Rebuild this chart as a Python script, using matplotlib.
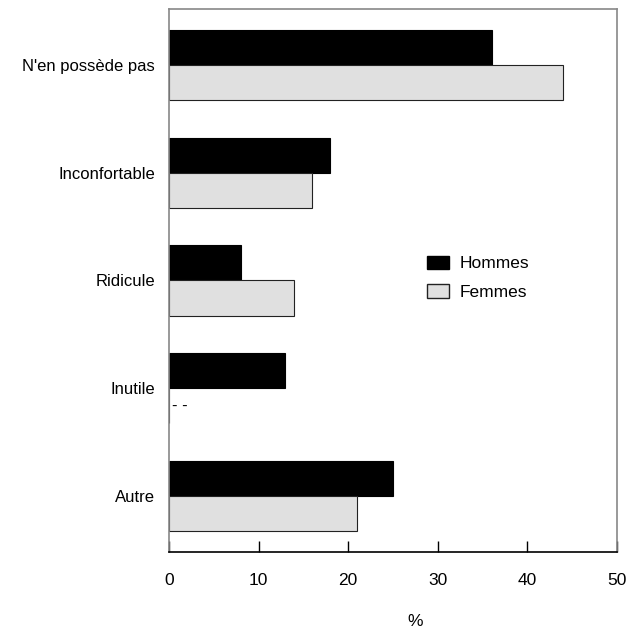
import matplotlib
matplotlib.use("Agg")
import matplotlib.pyplot as plt
import numpy as np
from matplotlib.patches import Patch

plt.rcParams["font.family"] = ["Liberation Sans", "DejaVu Sans"]

# Data
categories = ["N'en possède pas", "Inconfortable", "Ridicule", "Inutile", "Autre"]
hommes = [36, 18, 8, 13, 25]
femmes = [44, 16, 14, np.nan, 21]
xticks = [0, 10, 20, 30, 40, 50]

fig = plt.figure(figsize=(6.35, 6.3), dpi=100)
ax = fig.add_axes([169 / 635, 78 / 630, 448 / 635, 543 / 630])

y = np.arange(len(categories))
h = 0.325
ax.barh(y - h / 2, hommes, height=h, color="black", edgecolor="black", linewidth=0.8)
fem_vals = [0 if np.isnan(v) else v for v in femmes]
ax.barh(y + h / 2, fem_vals, height=h, color="#e0e0e0", edgecolor="#222222", linewidth=0.8)

# missing value marker
for i, v in enumerate(femmes):
    if np.isnan(v):
        ax.text(0.3, y[i] + h / 2, "- -", ha="left", va="center", fontsize=12)

ax.set_xlim(0, 50)
ax.set_ylim(4.52, -0.52)
ax.set_yticks(y)
ax.set_yticklabels(categories, fontsize=12)
ax.set_xticks(xticks)
ax.set_xticklabels([str(t) for t in xticks], fontsize=12.5)
ax.tick_params(axis="y", length=0, pad=10)
ax.tick_params(axis="x", direction="in", length=8, width=1, pad=15)

for side in ["top", "right", "left"]:
    ax.spines[side].set_color("#888888")
    ax.spines[side].set_linewidth(1.2)
ax.spines["bottom"].set_color("black")
ax.spines["bottom"].set_linewidth(1.2)

ax.set_xlabel("%", fontsize=12.5)
ax.xaxis.set_label_coords(0.55, -0.115)

handles = [Patch(facecolor="black", edgecolor="black", label="Hommes"),
           Patch(facecolor="#e0e0e0", edgecolor="#222222", label="Femmes")]
ax.legend(handles=handles, loc="center left", bbox_to_anchor=(0.54, 0.505),
          frameon=False, fontsize=12.5, handlelength=1.3, handleheight=0.8,
          labelspacing=0.75, handletextpad=0.6)

fig.savefig("out.png", dpi=100)
